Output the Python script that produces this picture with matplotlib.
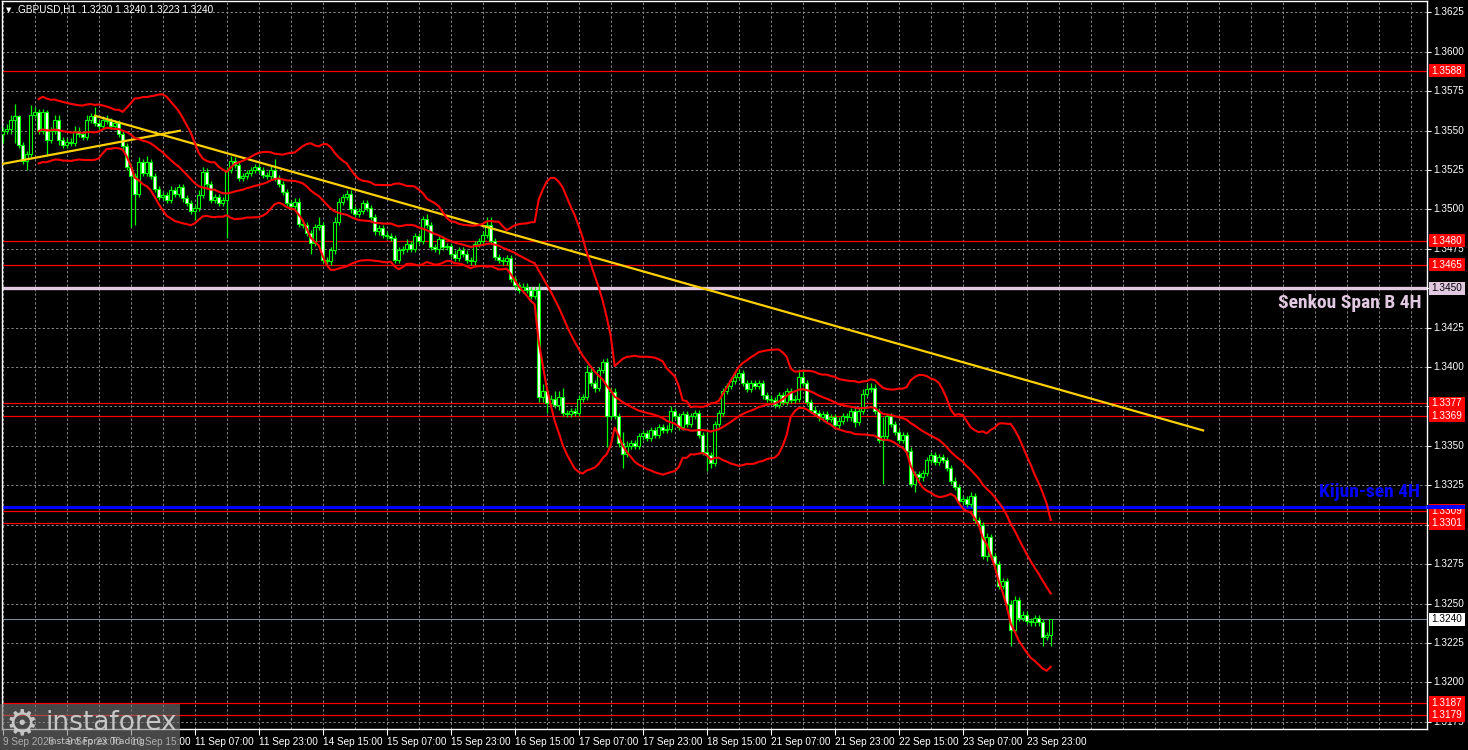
import numpy as np
import pandas as pd
import matplotlib
matplotlib.use('Agg')
import matplotlib.pyplot as plt
from matplotlib import transforms
from matplotlib.patches import Rectangle
from matplotlib import font_manager

# ---------------- data ----------------
title_text = "GBPUSD,H1  1.3230 1.3240 1.3223 1.3240"
first_open = 1.3548
closes = [
    1.3550, 1.3551, 1.3557, 1.3559, 1.3541, 1.3531, 1.3535, 1.3560, 1.3562, 1.3550,
    1.3562, 1.3544, 1.3550, 1.3557, 1.3544, 1.3541, 1.3543, 1.3542, 1.3550, 1.3548,
    1.3546, 1.3557, 1.3559, 1.3555, 1.3553, 1.3557, 1.3556, 1.3553, 1.3555, 1.3548,
    1.3540, 1.3527, 1.3521, 1.3510, 1.3530, 1.3523, 1.3530, 1.3521, 1.3513, 1.3508,
    1.3509, 1.3506, 1.3512, 1.3510, 1.3514, 1.3507, 1.3504, 1.3499, 1.3501, 1.3509,
    1.3524, 1.3516, 1.3506, 1.3508, 1.3504, 1.3506, 1.3525, 1.3531, 1.3528, 1.3520,
    1.3521, 1.3523, 1.3525, 1.3527, 1.3525, 1.3522, 1.3521, 1.3525, 1.3520, 1.3516,
    1.3511, 1.3504, 1.3502, 1.3505, 1.3491, 1.3490, 1.3485, 1.3479, 1.3489, 1.3490,
    1.3468, 1.3467, 1.3474, 1.3492, 1.3505, 1.3508, 1.3510, 1.3500, 1.3497, 1.3499,
    1.3504, 1.3501, 1.3495, 1.3486, 1.3488, 1.3484, 1.3483, 1.3482, 1.3468, 1.3474,
    1.3475, 1.3478, 1.3475, 1.3483, 1.3480, 1.3494, 1.3490, 1.3476, 1.3475, 1.3481,
    1.3476, 1.3477, 1.3472, 1.3469, 1.3474, 1.3472, 1.3468, 1.3467, 1.3478, 1.3480,
    1.3484, 1.3490, 1.3480, 1.3470, 1.3468, 1.3467, 1.3469, 1.3456, 1.3452, 1.3449,
    1.3451, 1.3449, 1.3445, 1.3449, 1.3381, 1.3385, 1.3377, 1.3380, 1.3376, 1.3381,
    1.3371, 1.3370, 1.3372, 1.3371, 1.3380, 1.3381, 1.3397, 1.3390, 1.3387, 1.3398,
    1.3403, 1.3369, 1.3384, 1.3369, 1.3352, 1.3345, 1.3350, 1.3352, 1.3350, 1.3356,
    1.3358, 1.3355, 1.3360, 1.3357, 1.3362, 1.3360, 1.3361, 1.3372, 1.3369, 1.3362,
    1.3370, 1.3364, 1.3369, 1.3371, 1.3357, 1.3346, 1.3344, 1.3339, 1.3364, 1.3371,
    1.3385, 1.3388, 1.3391, 1.3394, 1.3396, 1.3390, 1.3386, 1.3390, 1.3388, 1.3390,
    1.3382, 1.3380, 1.3379, 1.3376, 1.3382, 1.3378, 1.3385, 1.3379, 1.3380, 1.3394,
    1.3390, 1.3378, 1.3373, 1.3371, 1.3368, 1.3370, 1.3367, 1.3368, 1.3363, 1.3366,
    1.3369, 1.3368, 1.3372, 1.3365, 1.3372, 1.3383, 1.3386, 1.3387, 1.3372, 1.3354,
    1.3356, 1.3369, 1.3364, 1.3359, 1.3354, 1.3357, 1.3347, 1.3326, 1.3332, 1.3330,
    1.3333, 1.3341, 1.3344, 1.3340, 1.3343, 1.3341, 1.3336, 1.3328, 1.3324, 1.3315,
    1.3316, 1.3313, 1.3318, 1.3303, 1.3300, 1.3280, 1.3292, 1.3280, 1.3275, 1.3261,
    1.3264, 1.3250, 1.3233, 1.3252, 1.3241, 1.3243, 1.3239, 1.3238, 1.3241, 1.3238,
    1.3229, 1.3230, 1.3240,
]
up_wick_pips = [
    2, 3, 3, 8, 1, 2, 2, 6, 3, 2,
    2, 1, 2, 3, 3, 2, 2, 2, 3, 2,
    2, 3, 2, 6, 2, 2, 3, 2, 2, 2,
    2, 2, 2, 2, 3, 2, 4, 2, 2, 2,
    2, 2, 3, 2, 2, 2, 2, 2, 2, 3,
    3, 2, 2, 2, 2, 2, 2, 3, 2, 2,
    2, 2, 2, 2, 2, 2, 2, 3, 7, 2,
    2, 2, 2, 2, 2, 2, 2, 2, 2, 5,
    2, 2, 2, 3, 2, 2, 2, 2, 2, 2,
    2, 2, 2, 2, 2, 2, 2, 2, 2, 2,
    2, 3, 2, 2, 2, 2, 3, 2, 2, 2,
    2, 2, 2, 2, 2, 2, 2, 2, 2, 2,
    2, 5, 5, 2, 2, 2, 2, 2, 2, 2,
    2, 2, 2, 2, 4, 4, 1, 2, 5, 4,
    6, 2, 2, 2, 2, 2, 4, 3, 2, 2,
    2, 3, 3, 3, 2, 7, 3, 2, 2, 2,
    2, 2, 2, 2, 2, 2, 2, 3, 2, 2,
    2, 2, 2, 2, 2, 2, 13, 2, 2, 2,
    2, 2, 2, 2, 3, 2, 2, 2, 2, 2,
    2, 2, 2, 2, 2, 2, 2, 2, 2, 5,
    5, 2, 2, 2, 2, 2, 2, 2, 2, 2,
    2, 2, 2, 3, 2, 3, 3, 3, 2, 2,
    12, 2, 2, 2, 2, 2, 2, 2, 2, 2,
    2, 2, 2, 2, 2, 2, 2, 2, 2, 2,
    2, 2, 3, 2, 2, 2, 3, 2, 2, 2,
    2, 2, 2, 3, 2, 2, 2, 2, 2, 2,
    2, 2, 0,
]
down_wick_pips = [
    6, 2, 3, 15, 2, 2, 6, 2, 2, 2,
    2, 10, 2, 2, 3, 2, 2, 2, 2, 2,
    2, 2, 2, 2, 2, 2, 2, 2, 2, 2,
    2, 2, 32, 20, 2, 2, 2, 2, 2, 2,
    2, 2, 2, 2, 2, 2, 2, 2, 6, 2,
    2, 2, 2, 2, 2, 2, 24, 2, 2, 2,
    2, 2, 2, 2, 2, 2, 2, 2, 2, 2,
    2, 2, 2, 2, 2, 2, 2, 7, 2, 2,
    2, 2, 2, 2, 2, 2, 2, 2, 2, 2,
    2, 2, 2, 2, 2, 2, 2, 2, 2, 2,
    2, 2, 2, 2, 2, 2, 2, 2, 2, 3,
    2, 2, 2, 2, 2, 2, 2, 2, 2, 2,
    2, 2, 2, 2, 2, 2, 2, 2, 2, 2,
    2, 2, 2, 2, 3, 3, 6, 2, 2, 3,
    2, 2, 2, 2, 2, 2, 2, 2, 3, 2,
    2, 20, 2, 2, 3, 9, 2, 2, 2, 2,
    2, 2, 2, 2, 2, 2, 2, 2, 2, 2,
    2, 2, 2, 2, 2, 2, 10, 3, 2, 2,
    2, 2, 2, 2, 2, 2, 2, 2, 2, 2,
    2, 2, 2, 2, 2, 2, 2, 2, 2, 2,
    2, 2, 2, 2, 2, 2, 2, 2, 2, 2,
    2, 2, 2, 3, 2, 2, 2, 2, 2, 2,
    28, 2, 2, 2, 2, 2, 3, 2, 5, 2,
    2, 2, 2, 2, 2, 2, 2, 2, 2, 2,
    2, 2, 2, 2, 2, 2, 3, 2, 2, 2,
    2, 2, 10, 2, 2, 2, 2, 2, 2, 2,
    6, 2, 7,
]
x_tick_bars = [0, 16, 32, 48, 64, 80, 96, 112, 128, 144, 160, 176, 192, 208, 224, 240, 256]
x_tick_labels = ["9 Sep 2026", "9 Sep 23:00", "10 Sep 15:00", "11 Sep 07:00", "11 Sep 23:00",
                 "14 Sep 15:00", "15 Sep 07:00", "15 Sep 23:00", "16 Sep 15:00", "17 Sep 07:00",
                 "17 Sep 23:00", "18 Sep 15:00", "21 Sep 07:00", "21 Sep 23:00", "22 Sep 15:00",
                 "23 Sep 07:00", "23 Sep 23:00"]
price_ticks = [1.3625, 1.3600, 1.3575, 1.3550, 1.3525, 1.3500, 1.3475, 1.3450, 1.3425, 1.3400,
               1.3375, 1.3350, 1.3325, 1.3300, 1.3275, 1.3250, 1.3225, 1.3200, 1.3175]
hidden_tick_labels = [1.3450, 1.3375, 1.3300]
red_levels = [1.3588, 1.3480, 1.3465, 1.3377, 1.3369, 1.3309, 1.3301, 1.3187, 1.3179]
senkou_b_level = 1.3450
kijun_level = 1.3311
last_price = 1.3240
trend_main_bars = [23.1, 300.1]
trend_main_prices = [1.35594, 1.33598]
trend_short_bars = [-0.2, 44.3]
trend_short_prices = [1.35288, 1.35499]
bb_period = 20
bb_dev = 2.0

# ---------------- derived series ----------------
n = len(closes)
idx = np.arange(n)
c = np.array(closes)
o = np.concatenate([[first_open], c[:-1]])
hi = np.maximum(o, c) + np.array(up_wick_pips) * 0.0001
lo = np.minimum(o, c) - np.array(down_wick_pips) * 0.0001
s = pd.Series(c)
mid = s.rolling(bb_period, min_periods=10).mean()
sd = s.rolling(bb_period, min_periods=10).std(ddof=0)
upper = mid + bb_dev * sd
lower = mid - bb_dev * sd

# pick a narrow bold font if one is installed
available = {f.name for f in font_manager.fontManager.ttflist}
label_family = 'Liberation Sans'
for cand in ['Liberation Sans Narrow', 'Roboto Condensed', 'DejaVu Sans Condensed',
             'Open Sans Condensed', 'Noto Sans Condensed']:
    if cand in available:
        label_family = cand
        break
label_size = 14 if label_family != 'Liberation Sans' else 11.5

# ---------------- figure ----------------
W, H = 1468, 750
fig = plt.figure(figsize=(W / 100, H / 100), dpi=100, facecolor='black')
ax = fig.add_axes([2 / W, 21 / H, 1425 / W, 728 / H])
ax.set_facecolor('black')
ymin, ymax = 1.31704, 1.36322
ax.set_ylim(ymin, ymax)
ax.set_xlim(-0.175, 356.08)

grid_kw = dict(color='#8a8a8a', lw=0.7, linestyle=(0, (2.3, 2.3)), zorder=1)
for p in price_ticks:
    ax.axhline(p, **grid_kw)
for gx in range(0, 357, 8):
    ax.axvline(gx, **grid_kw)

# horizontal levels
for lv in red_levels:
    ax.axhline(lv, color='#ff0000', lw=0.9, zorder=2)
ax.axhline(senkou_b_level, color='#e2c9e2', lw=2.4, zorder=2)
ax.axhline(kijun_level, color='#0000ff', lw=2.2, zorder=2)
ax.axhline(last_price, color='#7d8b99', lw=0.8, zorder=2)

# trend lines
ax.plot(trend_main_bars, trend_main_prices, color='#ffd000', lw=1.6, zorder=5)
ax.plot(trend_short_bars, trend_short_prices, color='#ffd000', lw=1.6, zorder=5)

# candles
ax.vlines(idx, lo, hi, color='#00ff00', lw=0.9, zorder=3)
bull = c >= o
body_h = np.abs(c - o)
body_b = np.minimum(o, c)
ax.bar(idx[bull], body_h[bull], bottom=body_b[bull], width=0.72, color='black',
       edgecolor='#00ff00', linewidth=0.8, zorder=4)
ax.bar(idx[~bull], body_h[~bull], bottom=body_b[~bull], width=0.72, color='white',
       edgecolor='#00ff00', linewidth=0.8, zorder=4)

# bollinger bands
for band in (upper, mid, lower):
    ax.plot(idx, band, color='#ff0000', lw=1.5, zorder=5)

# spines / ticks
for sp in ax.spines.values():
    sp.set_color('white')
    sp.set_linewidth(1.0)
ax.set_yticks(price_ticks)
ax.tick_params(axis='y', left=False, right=True, labelleft=False, labelright=False,
               length=3, color='white', direction='out')
ax.set_xticks(x_tick_bars)
ax.set_xticklabels(x_tick_labels)
ax.tick_params(axis='x', length=4, color='white', direction='out', labelcolor='white',
               labelsize=7.2, pad=1.5)
for lab in ax.get_xticklabels():
    lab.set_ha('left')
    lab.set_fontfamily('Liberation Sans')

# right price labels
blend = transforms.blended_transform_factory(fig.transFigure, ax.transData)
for p in price_ticks:
    if p in hidden_tick_labels:
        continue
    ax.text(1433 / W, p, f"{p:.4f}", transform=blend, color='white', fontsize=7.2,
            family='Liberation Sans', va='center', ha='left', clip_on=False)

box_h = 13 / 15764


def price_box(price, text, fc, tc):
    ax.add_patch(Rectangle((1429 / W, price - box_h / 2), 36 / W, box_h, transform=blend,
                           facecolor=fc, edgecolor='none', clip_on=False, zorder=6))
    ax.text(1447 / W, price, text, transform=blend, color=tc, fontsize=7.2,
            family='Liberation Sans', va='center', ha='center', clip_on=False, zorder=7)


for lv in red_levels:
    price_box(lv, f"{lv:.4f}", '#ff0000', 'white')
price_box(senkou_b_level, f"{senkou_b_level:.4f}", '#e2c9e2', 'black')
price_box(last_price, f"{last_price:.4f}", 'white', 'black')
ax.add_patch(Rectangle((1427 / W, kijun_level - 2.0 / 15764), 38 / W, 4 / 15764, transform=blend,
                       facecolor='#0000ff', edgecolor='none', clip_on=False, zorder=8))

# indicator labels
ax.text(354.8, 1.34406, "Senkou Span B 4H", color='#e2c9e2', fontsize=label_size,
        fontweight='bold', family=label_family, ha='right', va='center', zorder=9)
ax.text(354.3, 1.33207, "Kijun-sen 4H", color='#0000ff', fontsize=label_size,
        fontweight='bold', family=label_family, ha='right', va='center', zorder=9)

# title
fig.text(6 / W, 1 - 10 / H, "\u25bc", color='white', fontsize=5, va='center', ha='left')
fig.text(18 / W, 1 - 10 / H, title_text, color='white', fontsize=7.2, family='Liberation Sans',
         va='center', ha='left')

# watermark
fig.add_artist(Rectangle((0, 0), 180 / W, 46 / H, transform=fig.transFigure,
                         facecolor='#777777', alpha=0.6, edgecolor='none', zorder=20))
fig.text(6 / W, 26 / H, "\u2699", color='#d4d4d4', fontsize=26, va='center', ha='left',
         family='DejaVu Sans', alpha=0.9, zorder=21)
fig.text(46 / W, 27 / H, "instaforex", color='#d4d4d4', fontsize=19, va='center', ha='left',
         family='DejaVu Sans', alpha=0.9, zorder=21)
fig.text(48 / W, 8 / H, "Instant Forex Trading", color='#d4d4d4', fontsize=6.6, va='center',
         ha='left', family='DejaVu Sans', alpha=0.9, zorder=21)

fig.savefig('out.png', dpi=100, facecolor='black')
